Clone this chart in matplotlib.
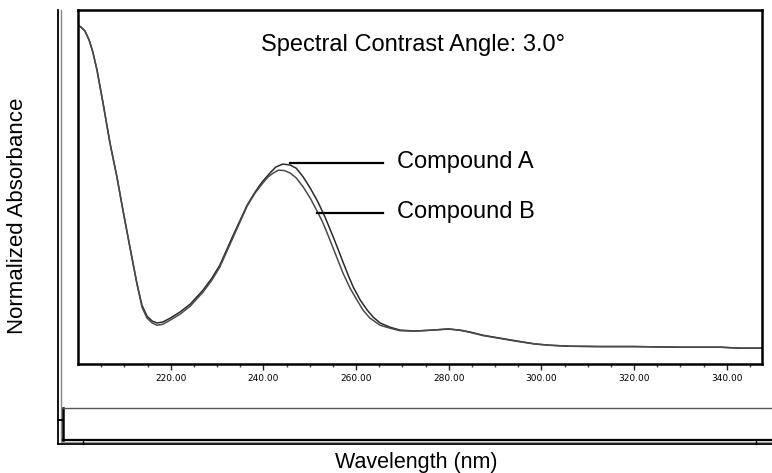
import matplotlib
matplotlib.use("Agg")
import matplotlib.pyplot as plt
from matplotlib.lines import Line2D

plt.rcParams['font.family'] = ['Liberation Sans', 'DejaVu Sans']

# Compound A spectrum (wavelength nm, normalized absorbance)
wl_a = [200.0, 200.65, 201.5, 202.4, 203.2, 204.1, 205.4, 206.9, 208.4, 209.7, 211.2,
        212.7, 213.8, 214.9, 216.0, 217.05, 218.3, 219.9, 222.0, 224.2, 227.0, 228.9,
        230.6, 233.5, 236.5, 238.2, 239.7, 241.4, 242.7, 244.2, 245.8, 247.1, 248.6,
        250.1, 251.8, 253.3, 255.0, 256.1, 257.2, 258.3, 259.4, 260.9, 262.4, 263.7,
        265.2, 267.3, 269.5, 272.7, 276.6, 279.9, 282.5, 284.6, 287.4, 291.1, 294.8,
        298.6, 301.9, 306.2, 312.7, 319.8, 329.9, 338.6, 342.9, 347.6]
abs_a = [1.006, 1.000, 0.988, 0.960, 0.923, 0.867, 0.765, 0.641, 0.536, 0.433, 0.319,
         0.207, 0.139, 0.105, 0.090, 0.084, 0.087, 0.099, 0.118, 0.142, 0.186, 0.223,
         0.263, 0.356, 0.449, 0.489, 0.520, 0.548, 0.567, 0.576, 0.573, 0.563, 0.536,
         0.502, 0.458, 0.412, 0.353, 0.313, 0.272, 0.232, 0.195, 0.155, 0.124, 0.102,
         0.084, 0.071, 0.062, 0.059, 0.062, 0.065, 0.062, 0.056, 0.046, 0.037, 0.028,
         0.019, 0.015, 0.012, 0.011, 0.011, 0.009, 0.009, 0.006, 0.006]

# Compound B spectrum
wl_b = [200.0, 200.65, 201.5, 202.4, 203.2, 204.1, 205.4, 206.9, 208.4, 209.7, 211.2,
        212.7, 213.8, 214.9, 216.0, 217.05, 218.3, 219.9, 222.0, 224.2, 227.0, 228.9,
        230.6, 233.5, 236.5, 238.2, 239.7, 241.0, 242.1, 243.2, 244.5, 245.8, 247.1,
        248.6, 250.1, 251.6, 252.7, 253.7, 254.8, 255.9, 257.2, 258.7, 260.2, 261.5,
        263.0, 265.2, 267.3, 269.5, 272.7, 276.6, 279.9, 282.5, 284.6, 287.4, 291.1,
        294.8, 298.6, 301.9, 306.2, 312.7, 319.8, 329.9, 338.6, 342.9, 347.6]
abs_b = [1.006, 1.000, 0.988, 0.960, 0.923, 0.867, 0.765, 0.641, 0.536, 0.433, 0.319,
         0.207, 0.133, 0.099, 0.084, 0.077, 0.080, 0.093, 0.111, 0.136, 0.180, 0.217,
         0.257, 0.350, 0.446, 0.486, 0.514, 0.536, 0.548, 0.557, 0.556, 0.548, 0.533,
         0.505, 0.471, 0.430, 0.399, 0.365, 0.325, 0.285, 0.238, 0.192, 0.155, 0.124,
         0.099, 0.077, 0.068, 0.060, 0.059, 0.062, 0.066, 0.061, 0.055, 0.045, 0.036,
         0.027, 0.019, 0.015, 0.012, 0.011, 0.011, 0.009, 0.009, 0.006, 0.006]

major_ticks = [220, 240, 260, 280, 300, 320, 340]
minor_ticks = [205, 210, 215, 225, 230, 235, 245, 250, 255, 265, 270, 275,
               285, 290, 295, 305, 310, 315, 325, 330, 335, 345]

W, H = 772, 473
fig = plt.figure(figsize=(W / 100, H / 100), dpi=100)

def fx(px):
    return px / W

def fy(py):
    return 1 - py / H

ax = fig.add_axes([fx(78), fy(364), fx(762) - fx(78), fy(10) - fy(364)])
ax.plot(wl_a, abs_a, color='#2a2a2a', lw=1.1)
ax.plot(wl_b, abs_b, color='#4a4a4a', lw=1.1)
ax.set_xlim(200, 347.6)
ax.set_ylim(-0.043, 1.053)
ax.set_yticks([])
ax.set_xticks(major_ticks)
ax.set_xticklabels([f"{t:.2f}" for t in major_ticks], fontsize=6.5, family='DejaVu Sans')
ax.set_xticks(minor_ticks, minor=True)
ax.tick_params(axis='x', which='major', length=4, width=1, pad=3, color='#222')
ax.tick_params(axis='x', which='minor', length=2.5, width=1, color='#444')
for s in ax.spines.values():
    s.set_linewidth(1.8)
    s.set_color('black')

# Leader lines and labels
ax.plot([245.8, 265.8], [0.579, 0.579], color='black', lw=1.6)
ax.plot([251.6, 265.8], [0.424, 0.424], color='black', lw=1.6)
ax.text(0.466, 0.571, "Compound A", transform=ax.transAxes, fontsize=17,
        va='center', ha='left')
ax.text(0.466, 0.429, "Compound B", transform=ax.transAxes, fontsize=17,
        va='center', ha='left')
ax.text(0.49, 0.90, "Spectral Contrast Angle: 3.0°", transform=ax.transAxes,
        fontsize=17, va='center', ha='center')

# Outer frame decorations
def fline(x0, y0, x1, y1, color='black', lw=1.0):
    fig.add_artist(Line2D([fx(x0), fx(x1)], [fy(y0), fy(y1)], color=color, lw=lw,
                          transform=fig.transFigure))

fline(57.5, 10, 57.5, 444, 'black', 1.3)
fline(60.5, 10, 60.5, 441.5, '#888888', 1.0)
fline(57.5, 444, 772, 444, 'black', 1.3)
fline(60.5, 441.5, 772, 441.5, '#999999', 0.8)
fline(62.5, 408, 62.5, 440, 'black', 1.8)
fline(62.5, 408, 772, 408, '#555555', 1.0)
fline(62.5, 440, 772, 440, 'black', 1.6)
fline(57.5, 420, 62.5, 420, 'black', 1.3)
fline(83, 440, 83, 444, 'black', 1.0)
fline(756, 440, 756, 444, 'black', 1.0)

fig.text(fx(18), fy(216), "Normalized Absorbance", rotation=90, fontsize=16,
         ha='center', va='center')
fig.text(fx(416), fy(462), "Wavelength (nm)", fontsize=15.5, ha='center', va='center')

fig.savefig("out.png", dpi=100)
